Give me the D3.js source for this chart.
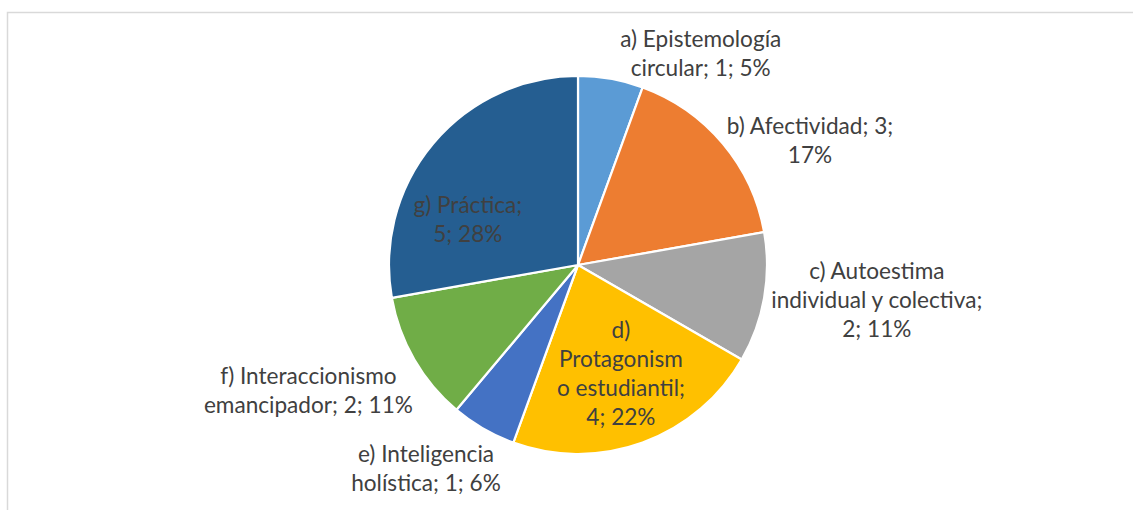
<!DOCTYPE html>
<html>
<head>
<meta charset="utf-8">
<script src="https://cdn.jsdelivr.net/npm/d3@7"></script>
<style>
  html, body { margin: 0; padding: 0; background: #ffffff; }
  svg { display: block; }
</style>
</head>
<body>
<svg id="chart" width="1133" height="510"></svg>
<script>
// ---- data ----
const categories = [
  "a) Epistemología circular",
  "b) Afectividad",
  "c) Autoestima individual y colectiva",
  "d) Protagonismo estudiantil",
  "e) Inteligencia holística",
  "f) Interaccionismo emancipador",
  "g) Práctica"
];
const values = [1, 3, 2, 4, 1, 2, 5];
const percentLabels = ["5%", "17%", "11%", "22%", "6%", "11%", "28%"];
const labelLines = [
  ["a) Epistemología", "circular; 1; 5%"],
  ["b) Afectividad; 3;", "17%"],
  ["c) Autoestima", "individual y colectiva;", "2; 11%"],
  ["d)", "Protagonism", "o estudiantil;", "4; 22%"],
  ["e) Inteligencia", "holística; 1; 6%"],
  ["f) Interaccionismo", "emancipador; 2; 11%"],
  ["g) Práctica;", "5; 28%"]
];

// ---- styles / layout ----
const colors = ["#5B9BD5", "#ED7D31", "#A5A5A5", "#FFC000", "#4472C4", "#70AD47", "#255E91"];
// label anchor in polar coords (degrees clockwise from top, radius px)
const labelPolar = [
  [30.2, 244], [61.9, 263], [96.9, 301], [158.6, 117.6],
  [216.6, 255], [244.8, 298], [292.2, 119]
];
const cx = 578, cy = 265, R = 189;
const lineH = 29;

const svg = d3.select("#chart");

// chart area frame
svg.append("rect")
  .attr("x", 7.5).attr("y", 12.5)
  .attr("width", 1200).attr("height", 600)
  .attr("fill", "none")
  .attr("stroke", "#d9d9d9")
  .attr("stroke-width", 1.5);

const pie = d3.pie().sort(null).value(d => d);
const arcs = pie(values);
const arc = d3.arc().innerRadius(0).outerRadius(R);

const g = svg.append("g").attr("transform", `translate(${cx},${cy})`);

g.selectAll("path.slice")
  .data(arcs)
  .join("path")
  .attr("class", "slice")
  .attr("d", arc)
  .attr("fill", (d, i) => colors[i])
  .attr("stroke", "#ffffff")
  .attr("stroke-width", 2.2)
  .attr("stroke-linejoin", "round");

const labels = g.selectAll("text.lbl")
  .data(arcs)
  .join("text")
  .attr("class", "lbl")
  .attr("text-anchor", "middle")
  .attr("font-family", "Lato, 'Open Sans', sans-serif")
  .attr("font-size", 22.6)
  .attr("fill", "#404040")
  .each(function(d, i) {
    const [angDeg, r] = labelPolar[i];
    const a = angDeg * Math.PI / 180;
    const x = r * Math.sin(a);
    const y = -r * Math.cos(a);
    const lines = labelLines[i];
    const y0 = y + 7 - (lines.length - 1) * lineH / 2;
    d3.select(this).selectAll("tspan")
      .data(lines)
      .join("tspan")
      .attr("x", x)
      .attr("y", (t, j) => y0 + j * lineH)
      .text(t => t);
  });
</script>
</body>
</html>
